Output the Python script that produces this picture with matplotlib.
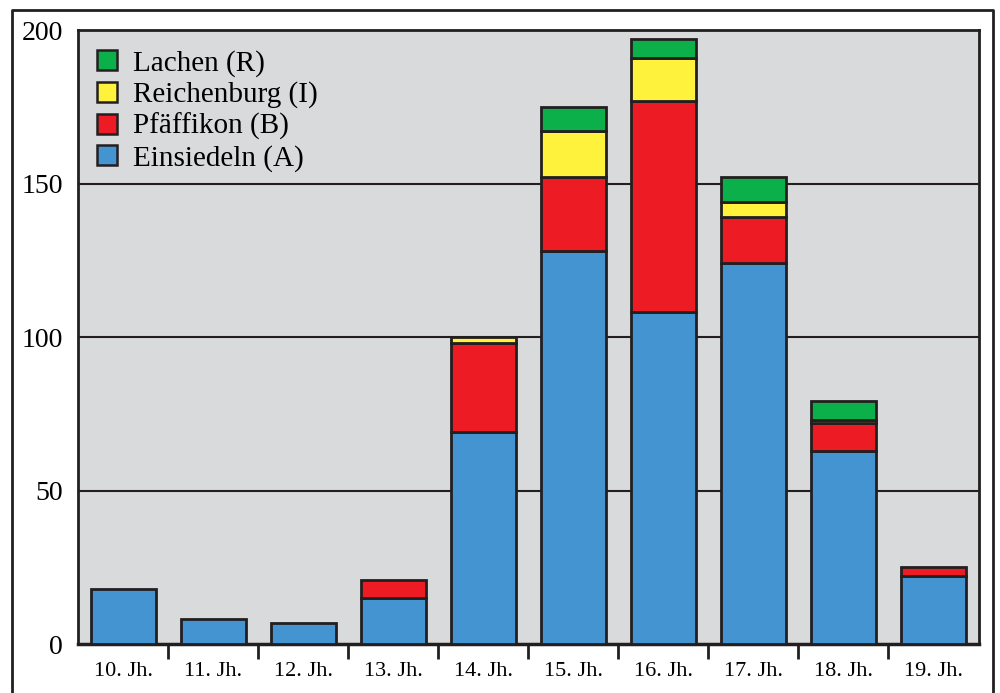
"""
Stacked bars per century: Einsiedeln / Pfäffikon / Reichenburg / Lachen
"""
import matplotlib
matplotlib.use("Agg")
import matplotlib.pyplot as plt
from matplotlib.lines import Line2D
from matplotlib.patches import Patch
import numpy as np

plt.rcParams["font.family"] = ["Liberation Serif", "DejaVu Serif"]

centuries = ["10. Jh.", "11. Jh.", "12. Jh.", "13. Jh.", "14. Jh.",
             "15. Jh.", "16. Jh.", "17. Jh.", "18. Jh.", "19. Jh."]
einsiedeln  = [18, 8, 7, 15, 69, 128, 108, 124, 63, 22]
pfaeffikon  = [0, 0, 0, 6, 29, 24, 69, 15, 9, 3]
reichenburg = [0, 0, 0, 0, 2, 15, 14, 5, 1, 0]
lachen      = [0, 0, 0, 0, 0, 8, 6, 8, 6, 0]

series = [
    ("Einsiedeln (A)", einsiedeln, "#4394d0"),
    ("Pfäffikon (B)", pfaeffikon, "#ed1c24"),
    ("Reichenburg (I)", reichenburg, "#fff23c"),
    ("Lachen (R)", lachen, "#0bb04b"),
]

fig = plt.figure(figsize=(10, 6.93), dpi=100)
ax = fig.add_axes([0.078, 0.0707, 0.901, 0.886])
ax.set_facecolor("#d9dadc")

x = np.arange(len(centuries))
bottom = np.zeros(len(centuries))
for name, vals, col in series:
    vals = np.array(vals, dtype=float)
    mask = vals > 0
    ax.bar(x[mask], vals[mask], bottom=bottom[mask], width=0.72,
           color=col, edgecolor="#231f20", linewidth=2, zorder=3)
    bottom += vals

for v in [50, 100, 150]:
    ax.axhline(v, color="#231f20", linewidth=1.5, zorder=1)

ax.set_xlim(-0.505, 9.51)
ax.set_ylim(0, 200)
ax.set_yticks([0, 50, 100, 150, 200])
ax.tick_params(axis="y", length=0, pad=11, labelsize=20)

ax.set_xticks(np.arange(0.5, 9.0, 1.0))
ax.set_xticklabels([])
ax.tick_params(axis="x", which="major", direction="out", length=11,
               width=2, color="#231f20")
ax.set_xticks(x, minor=True)
ax.set_xticklabels(centuries, minor=True)
ax.tick_params(axis="x", which="minor", length=0, pad=13, labelsize=16)

for s in ax.spines.values():
    s.set_linewidth(2)
    s.set_color("#231f20")
ax.spines["bottom"].set_linewidth(2.5)

handles = [Patch(facecolor=col, edgecolor="#231f20", linewidth=1.8, label=name)
           for name, _, col in reversed(series)]
ax.legend(handles=handles, loc="upper left", frameon=False, fontsize=21,
          handlelength=0.68, handleheight=0.68, handletextpad=0.55,
          labelspacing=0.16, borderaxespad=0.0, bbox_to_anchor=(0.008, 0.987))

# outer frame (left, top, right)
fig.add_artist(Line2D([0.012, 0.012, 0.993, 0.993], [0.0, 0.986, 0.986, 0.0],
                      transform=fig.transFigure, color="#231f20", linewidth=2))

fig.savefig("out.png", dpi=100)
